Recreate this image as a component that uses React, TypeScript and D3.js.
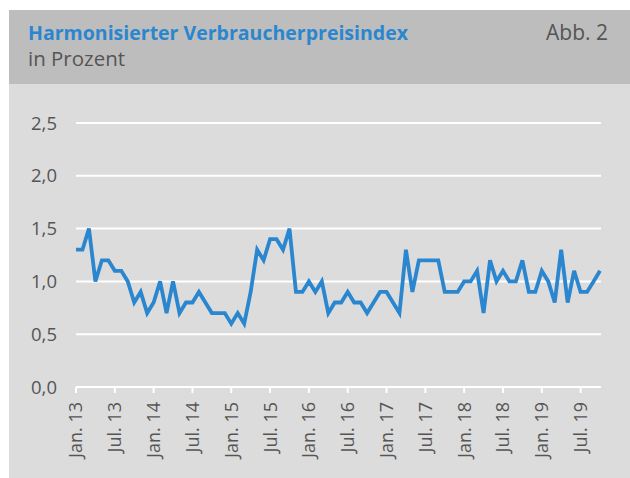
import React from "react";
import * as d3 from "d3";

const values: number[] = [
  1.3, 1.3, 1.5, 1.0, 1.2, 1.2, 1.1, 1.1, 1.0, 0.8, 0.9, 0.7,
  0.8, 1.0, 0.7, 1.0, 0.7, 0.8, 0.8, 0.9, 0.8, 0.7, 0.7, 0.7,
  0.6, 0.7, 0.6, 0.9, 1.3, 1.2, 1.4, 1.4, 1.3, 1.5, 0.9, 0.9,
  1.0, 0.9, 1.0, 0.7, 0.8, 0.8, 0.9, 0.8, 0.8, 0.7, 0.8, 0.9,
  0.9, 0.8, 0.7, 1.3, 0.9, 1.2, 1.2, 1.2, 1.2, 0.9, 0.9, 0.9,
  1.0, 1.0, 1.1, 0.7, 1.2, 1.0, 1.1, 1.0, 1.0, 1.2, 0.9, 0.9,
  1.1, 1.0, 0.8, 1.3, 0.8, 1.1, 0.9, 0.9, 1.0, 1.1,
];

const tickLabels: string[] = [
  "Jan. 13", "Jul. 13", "Jan. 14", "Jul. 14", "Jan. 15", "Jul. 15", "Jan. 16",
  "Jul. 16", "Jan. 17", "Jul. 17", "Jan. 18", "Jul. 18", "Jan. 19", "Jul. 19",
];
const tickIndices: number[] = tickLabels.map((_, i) => i * 6);
const yTicks: number[] = [0, 0.5, 1.0, 1.5, 2.0, 2.5];

const title = "Harmonisierter Verbraucherpreisindex";
const subtitle = "in Prozent";
const figLabel = "Abb. 2";

const W = 630;
const H = 478;
const FONT = "'Open Sans', 'Noto Sans', sans-serif";
const BLUE = "#2a86cf";
const TEXT = "#555555";

export default function App() {
  const x = d3.scaleLinear().domain([0, values.length - 1]).range([76, 600]);
  const y = d3.scaleLinear().domain([0, 2.5]).range([387, 123]);
  const line = d3
    .line<number>()
    .x((_, i) => x(i))
    .y((d) => y(d));
  const fmt = (v: number) => d3.format(".1f")(v).replace(".", ",");

  return (
    <svg
      width={W}
      height={H}
      style={{ position: "absolute", left: 0, top: 0, display: "block" }}
    >
      <rect x={0} y={0} width={W} height={H} fill="#ffffff" />
      <rect x={9} y={10} width={W - 9} height={H - 10} fill="#dcdcdc" />
      <rect x={9} y={10} width={W - 9} height={74} fill="#bdbdbd" />
      <text
        x={28}
        y={40}
        fontFamily={FONT}
        fontWeight={700}
        fontSize={20}
        fill={BLUE}
        textLength={380}
        lengthAdjust="spacingAndGlyphs"
      >
        {title}
      </text>
      <text
        x={28}
        y={66}
        fontFamily={FONT}
        fontSize={20}
        fill={TEXT}
        textLength={97}
        lengthAdjust="spacingAndGlyphs"
      >
        {subtitle}
      </text>
      <text
        x={608}
        y={40}
        textAnchor="end"
        fontFamily={FONT}
        fontSize={21}
        fill={TEXT}
      >
        {figLabel}
      </text>

      {yTicks.map((t) => (
        <g key={t}>
          <line
            x1={76}
            x2={601}
            y1={y(t)}
            y2={y(t)}
            stroke="#ffffff"
            strokeWidth={2}
          />
          <text
            x={57}
            y={y(t)}
            dy="0.36em"
            textAnchor="end"
            fontFamily={FONT}
            fontSize={18.5}
            fill={TEXT}
          >
            {fmt(t)}
          </text>
        </g>
      ))}

      {tickIndices.map((ti, k) => (
        <g key={ti}>
          <line
            x1={x(ti)}
            x2={x(ti)}
            y1={y(0)}
            y2={y(0) + 6}
            stroke="#ffffff"
            strokeWidth={2}
          />
          <text
            transform={`translate(${x(ti)},${y(0) + 15}) rotate(-90)`}
            textAnchor="end"
            dy="0.36em"
            fontFamily={FONT}
            fontSize={18}
            fill={TEXT}
          >
            {tickLabels[k]}
          </text>
        </g>
      ))}

      <path
        d={line(values) ?? ""}
        fill="none"
        stroke={BLUE}
        strokeWidth={3.8}
        strokeLinejoin="miter"
      />
    </svg>
  );
}
